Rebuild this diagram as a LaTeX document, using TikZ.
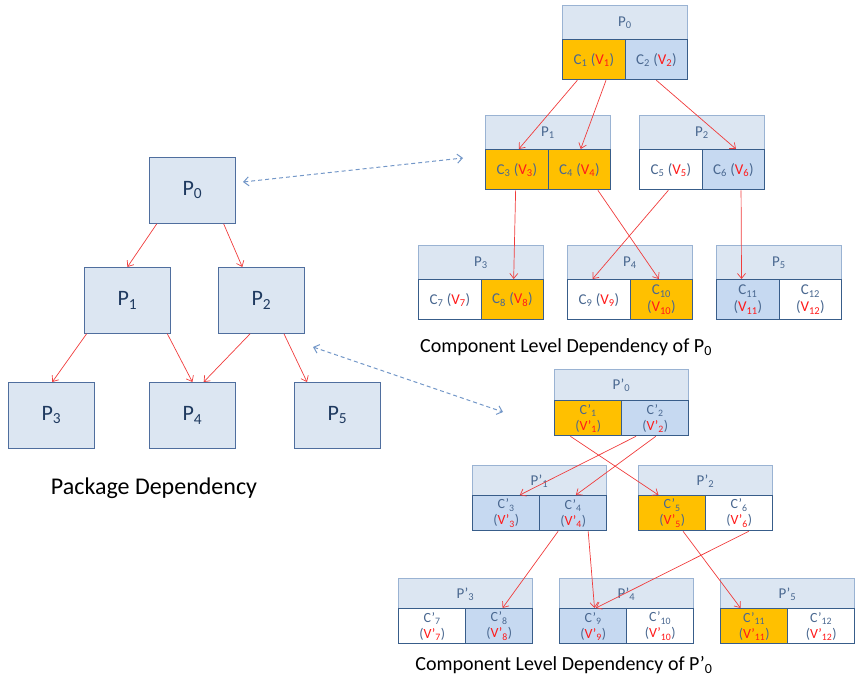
\documentclass[tikz,border=0pt]{standalone}
\usepackage{fontspec}
\setmainfont{Carlito}
\usetikzlibrary{arrows.meta,calc}
\definecolor{hdrfill}{HTML}{DCE6F2}
\definecolor{hdrline}{HTML}{9AB3D3}
\definecolor{rowline}{HTML}{385D8A}
\definecolor{orng}{HTML}{FFC000}
\definecolor{ltblue}{HTML}{C6D9F1}
\definecolor{ctext}{HTML}{4A6890}
\definecolor{htext}{HTML}{4A6890}
\definecolor{ptext}{HTML}{1F3A60}
\definecolor{boxline}{HTML}{4F6E9E}
\definecolor{dashcol}{HTML}{7397C8}
\definecolor{vred}{HTML}{FF1A1A}
\definecolor{arrred}{HTML}{F03C3C}
\newcommand\cvone[1]{\textcolor{ctext}{C\textsubscript{#1} (}\textcolor{vred}{V\textsubscript{#1}}\textcolor{ctext}{)}}
\newcommand\cvtwo[1]{\textcolor{ctext}{C\textsubscript{#1}}\\\textcolor{ctext}{(}\textcolor{vred}{V\textsubscript{#1}}\textcolor{ctext}{)}}
\newcommand\cvprime[1]{\textcolor{ctext}{C’\textsubscript{#1}}\\\textcolor{ctext}{(}\textcolor{vred}{V’\textsubscript{#1}}\textcolor{ctext}{)}}
\tikzset{
  hdrA/.style={draw=hdrline, fill=hdrfill, line width=0.8pt, minimum width=125pt, minimum height=34pt, inner sep=0pt, anchor=north west, text=htext, font=\fontsize{15}{17}\selectfont},
  compA/.style={draw=rowline, line width=1.3pt, minimum width=62.5pt, minimum height=40pt, inner sep=0pt, anchor=north west, align=center, font=\fontsize{15}{17}\selectfont},
  hdrB/.style={draw=hdrline, fill=hdrfill, line width=0.8pt, minimum width=134pt, minimum height=31pt, inner sep=0pt, anchor=north west, text=htext, font=\fontsize{15}{17}\selectfont},
  compB/.style={draw=rowline, line width=1.3pt, minimum width=67pt, minimum height=35pt, inner sep=0pt, anchor=north west, align=center, font=\fontsize{14}{16}\selectfont},
  pbox/.style={draw=boxline, fill=hdrfill, line width=0.8pt, minimum width=86pt, minimum height=66pt, inner sep=0pt, anchor=north west, text=ptext, font=\fontsize{22}{25}\selectfont},
  lbl/.style={font=\fontsize{20}{24}\selectfont, text=black, inner sep=0pt},
  dep/.style={draw=arrred, line width=0.7pt, -{Straight Barb[length=5pt,width=8pt]}},
  link/.style={draw=dashcol, line width=1pt, dash pattern=on 4pt off 3pt, {Straight Barb[length=5pt,width=9pt]}-{Straight Barb[length=5pt,width=9pt]}}
}
\begin{document}
\begin{tikzpicture}[x=1pt,y=-1pt]
\useasboundingbox (0,0) rectangle (855,685);
% left package tree
\node[pbox] (lp0) at (149,157) {P\textsubscript{0}};
\node[pbox] (lp1) at (84,267) {P\textsubscript{1}};
\node[pbox] (lp2) at (218,267) {P\textsubscript{2}};
\node[pbox] (lp3) at (8,382) {P\textsubscript{3}};
\node[pbox] (lp4) at (149,382) {P\textsubscript{4}};
\node[pbox] (lp5) at (294,382) {P\textsubscript{5}};
\draw[dep] ($(lp0.south west)!0.09!(lp0.south east)$) -- ($(lp1.north west)!0.5!(lp1.north east)$);
\draw[dep] ($(lp0.south west)!0.86!(lp0.south east)$) -- ($(lp2.north west)!0.28!(lp2.north east)$);
\draw[dep] ($(lp1.south west)!0.03!(lp1.south east)$) -- ($(lp3.north west)!0.51!(lp3.north east)$);
\draw[dep] ($(lp1.south west)!0.96!(lp1.south east)$) -- ($(lp4.north west)!0.5!(lp4.north east)$);
\draw[dep] ($(lp2.south west)!0.37!(lp2.south east)$) -- ($(lp4.north west)!0.63!(lp4.north east)$);
\draw[dep] ($(lp2.south west)!0.76!(lp2.south east)$) -- ($(lp5.north west)!0.15!(lp5.north east)$);
\node[lbl, font=\fontsize{24}{28}\selectfont] (lab0) at (154,488) {Package Dependency};
% top component tree
\node[hdrA] (tp0) at (562,5) {P\textsubscript{0}};
\node[compA, fill=orng] (c1) at (562,39) {\cvone{1}};
\node[compA, fill=ltblue] (c2) at (624.5,39) {\cvone{2}};
\node[hdrA] (tp1) at (485,115) {P\textsubscript{1}};
\node[compA, fill=orng] (c3) at (485,149) {\cvone{3}};
\node[compA, fill=orng] (c4) at (547.5,149) {\cvone{4}};
\node[hdrA] (tp2) at (639,115) {P\textsubscript{2}};
\node[compA, fill=white] (c5) at (639,149) {\cvone{5}};
\node[compA, fill=ltblue] (c6) at (701.5,149) {\cvone{6}};
\node[hdrA] (tp3) at (418,245) {P\textsubscript{3}};
\node[compA, fill=white] (c7) at (418,279) {\cvone{7}};
\node[compA, fill=orng] (c8) at (480.5,279) {\cvone{8}};
\node[hdrA] (tp4) at (567,245) {P\textsubscript{4}};
\node[compA, fill=white] (c9) at (567,279) {\cvone{9}};
\node[compA, fill=orng] (c10) at (629.5,279) {\cvtwo{10}};
\node[hdrA] (tp5) at (716,245) {P\textsubscript{5}};
\node[compA, fill=ltblue] (c11) at (716,279) {\cvtwo{11}};
\node[compA, fill=white] (c12) at (778.5,279) {\cvtwo{12}};
\draw[dep] ($(c1.south west)!0.24!(c1.south east)$) -- ($(c3.north west)!0.53!(c3.north east)$);
\draw[dep] ($(c1.south west)!0.69!(c1.south east)$) -- ($(c4.north west)!0.52!(c4.north east)$);
\draw[dep] ($(c2.south west)!0.5!(c2.south east)$) -- ($(c6.north west)!0.54!(c6.north east)$);
\draw[dep] ($(c3.south west)!0.48!(c3.south east)$) -- ($(c8.north west)!0.52!(c8.north east)$);
\draw[dep] ($(c4.south west)!0.79!(c4.south east)$) -- ($(c10.north west)!0.46!(c10.north east)$);
\draw[dep] ($(c5.south west)!0.46!(c5.south east)$) -- ($(c9.north west)!0.4!(c9.north east)$);
\draw[dep] ($(c6.south west)!0.62!(c6.south east)$) -- ($(c11.north west)!0.4!(c11.north east)$);
\node[lbl] (lab1) at (566,347) {Component Level Dependency of P\textsubscript{0}};
% bottom component tree
\node[hdrB] (bp0) at (554,369) {P’\textsubscript{0}};
\node[compB, fill=orng] (d1) at (554,400) {\cvprime{1}};
\node[compB, fill=ltblue] (d2) at (621,400) {\cvprime{2}};
\node[hdrB] (bp1) at (472,465) {P’\textsubscript{1}};
\node[compB, fill=ltblue] (d3) at (472,495) {\cvprime{3}};
\node[compB, fill=ltblue] (d4) at (539,495) {\cvprime{4}};
\node[hdrB] (bp2) at (638,465) {P’\textsubscript{2}};
\node[compB, fill=orng] (d5) at (638,495) {\cvprime{5}};
\node[compB, fill=white] (d6) at (705,495) {\cvprime{6}};
\node[hdrB] (bp3) at (398,578) {P’\textsubscript{3}};
\node[compB, fill=white] (d7) at (398,608) {\cvprime{7}};
\node[compB, fill=ltblue] (d8) at (465,608) {\cvprime{8}};
\node[hdrB] (bp4) at (559,578) {P’\textsubscript{4}};
\node[compB, fill=ltblue] (d9) at (559,608) {\cvprime{9}};
\node[compB, fill=white] (d10) at (626,608) {\cvprime{10}};
\node[hdrB] (bp5) at (720,578) {P’\textsubscript{5}};
\node[compB, fill=orng] (d11) at (720,608) {\cvprime{11}};
\node[compB, fill=white] (d12) at (787,608) {\cvprime{12}};
\draw[dep] ($(d1.south west)!0.24!(d1.south east)$) -- ($(d5.north west)!0.3!(d5.north east)$);
\draw[dep] ($(d2.south west)!0.22!(d2.south east)$) -- ($(d3.north west)!0.7!(d3.north east)$);
\draw[dep] ($(d2.south west)!0.51!(d2.south east)$) -- ($(d4.north west)!0.54!(d4.north east)$);
\draw[dep] ($(d4.south west)!0.28!(d4.south east)$) -- ($(d8.north west)!0.55!(d8.north east)$);
\draw[dep] ($(d4.south west)!0.72!(d4.south east)$) -- ($(d9.north west)!0.52!(d9.north east)$);
\draw[dep] ($(d5.south west)!0.66!(d5.south east)$) -- ($(d11.north west)!0.3!(d11.north east)$);
\draw[dep] ($(d6.south west)!0.64!(d6.south east)$) -- ($(d9.north west)!0.54!(d9.north east)$);
\node[lbl] (lab2) at (564,665) {Component Level Dependency of P’\textsubscript{0}};
% dashed correspondence links
\coordinate (la1) at (243,182);
\coordinate (ra1) at (463,158);
\coordinate (la2) at (313,347);
\coordinate (ra2) at (503,412);
\draw[link] (la1) -- (ra1);
\draw[link] (la2) -- (ra2);
\end{tikzpicture}
\end{document}
